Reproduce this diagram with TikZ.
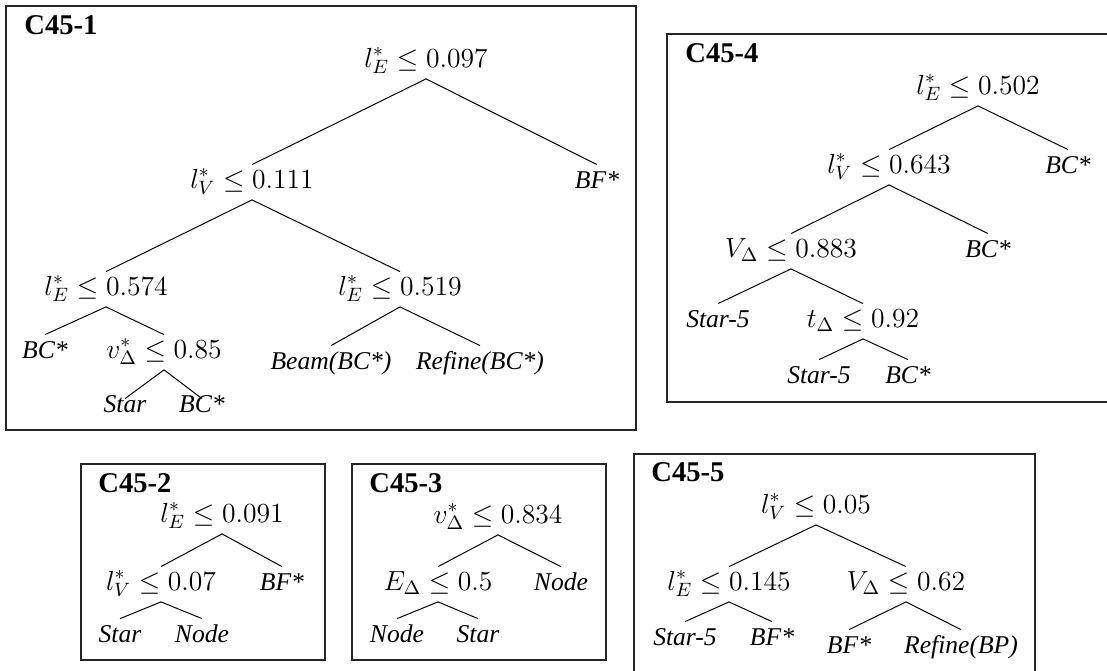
\RequirePackage{fix-cm}
\documentclass[tikz,border=0pt]{standalone}
\usepackage[no-math]{fontspec}
\setmainfont{Liberation Serif}

\tikzset{
  cond/.style={anchor=base, inner sep=0pt, text height=11.5pt, text depth=5.75pt,
    font=\fontsize{13.8}{16}\selectfont},
  leaf/.style={anchor=base, inner sep=0pt, text height=11.5pt, text depth=5.75pt,
    font=\fontsize{12.8}{15}\selectfont\itshape},
  boxtitle/.style={anchor=base west, inner sep=0pt,
    font=\fontsize{14.3}{17}\selectfont\bfseries},
  frame/.style={draw=black!85, line width=0.7pt},
  branch/.style={line width=0.5pt},
}

\begin{document}
\begin{tikzpicture}[x=0.5pt, y=-0.5pt]
\useasboundingbox (0,0) rectangle (1107,670);
\clip (0,0) rectangle (1107,670);

% ---------- C45-1 ----------
\draw[frame] (6,6) rectangle (636,430);
\node[boxtitle] (t1) at (24,34) {C45-1};
\node[cond] (a0) at (426,67)  {$l^*_E \le 0.097$};
\node[cond] (a1) at (252,188) {$l^*_V \le 0.111$};
\node[leaf] (a2) at (597,188) {BF*};
\node[cond] (a3) at (106,295) {$l^*_E \le 0.574$};
\node[cond] (a4) at (400,295) {$l^*_E \le 0.519$};
\node[leaf] (a5) at (45,358)  {BC*};
\node[cond] (a6) at (164,358) {$v^*_\Delta \le 0.85$};
\node[leaf] (a7) at (331,369) {Beam(BC*)};
\node[leaf] (a8) at (480,369) {Refine(BC*)};
\node[leaf, text height=6.5pt] (a9)  at (125,412) {Star};
\node[leaf, text height=6.5pt] (a10) at (202,412) {BC*};
\draw[branch] (a1.north) -- (a0.south) -- (a2.north);
\draw[branch] (a3.north) -- (a1.south) -- (a4.north);
\draw[branch] (a5.north) -- (a3.south) -- (a6.north);
\draw[branch] (a7.north) -- (a4.south) -- (a8.north);
\draw[branch] (a9.north) -- (a6.south) -- (a10.north);

% ---------- C45-4 ----------
\draw[frame] (667,34) rectangle (1120,402);
\node[boxtitle] (t4) at (685,62) {C45-4};
\node[cond] (b0) at (978,94)  {$l^*_E \le 0.502$};
\node[cond] (b1) at (889,173) {$l^*_V \le 0.643$};
\node[leaf] (b2) at (1068,173) {BC*};
\node[cond] (b3) at (791,257) {$V_\Delta \le 0.883$};
\node[leaf] (b4) at (988,257) {BC*};
\node[leaf] (b5) at (718,327) {Star-5};
\node[cond] (b6) at (863,327) {$t_\Delta \le 0.92$};
\node[leaf] (b7) at (819,383) {Star-5};
\node[leaf] (b8) at (908,383) {BC*};
\draw[branch] (b1.north) -- (b0.south) -- (b2.north);
\draw[branch] (b3.north) -- (b1.south) -- (b4.north);
\draw[branch] (b5.north) -- (b3.south) -- (b6.north);
\draw[branch] (b7.north) -- (b6.south) -- (b8.north);

% ---------- C45-2 ----------
\draw[frame] (81,464) rectangle (325,660);
\node[boxtitle] (t2) at (98,492) {C45-2};
\node[cond] (c0) at (222,522) {$l^*_E \le 0.091$};
\node[cond] (c1) at (161,590) {$l^*_V \le 0.07$};
\node[leaf] (c2) at (282,590) {BF*};
\node[leaf] (c3) at (120,642) {Star};
\node[leaf] (c4) at (202,642) {Node};
\draw[branch] (c1.north) -- (c0.south) -- (c2.north);
\draw[branch] (c3.north) -- (c1.south) -- (c4.north);

% ---------- C45-3 ----------
\draw[frame] (352,464) rectangle (606,660);
\node[boxtitle] (t3) at (369,492) {C45-3};
\node[cond] (d0) at (498,523) {$v^*_\Delta \le 0.834$};
\node[cond] (d1) at (438,590) {$E_\Delta \le 0.5$};
\node[leaf] (d2) at (561,590) {Node};
\node[leaf] (d3) at (397,642) {Node};
\node[leaf] (d4) at (478,642) {Star};
\draw[branch] (d1.north) -- (d0.south) -- (d2.north);
\draw[branch] (d3.north) -- (d1.south) -- (d4.north);

% ---------- C45-5 ----------
\draw[frame] (634,454) rectangle (1035,690);
\node[boxtitle] (t5) at (651,481) {C45-5};
\node[cond] (e0) at (816,513) {$l^*_V \le 0.05$};
\node[cond] (e1) at (729,590) {$l^*_E \le 0.145$};
\node[cond] (e2) at (906,590) {$V_\Delta \le 0.62$};
\node[leaf] (e3) at (685,645) {Star-5};
\node[leaf] (e4) at (772,645) {BF*};
\node[leaf] (e5) at (849,653) {BF*};
\node[leaf] (e6) at (961,653) {Refine(BP)};
\draw[branch] (e1.north) -- (e0.south) -- (e2.north);
\draw[branch] (e3.north) -- (e1.south) -- (e4.north);
\draw[branch] (e5.north) -- (e2.south) -- (e6.north);
\end{tikzpicture}
\end{document}
